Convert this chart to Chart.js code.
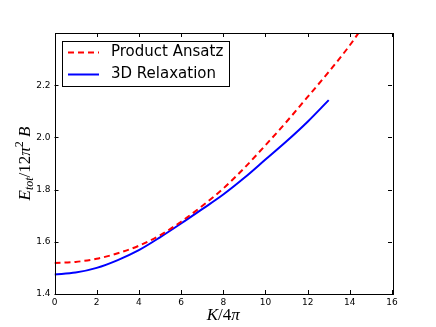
<!DOCTYPE html>
<html>
<head>
<meta charset="utf-8">
<script src="https://cdn.jsdelivr.net/npm/chart.js@4"></script>
<style>
  html, body { margin: 0; padding: 0; background: #fff; }
  #wrap { width: 436px; height: 327px; }
</style>
</head>
<body>
<div id="wrap"><canvas id="chart" width="436" height="327"></canvas></div>
<script>
// valores
const ansatzK = [0, 1, 2, 3, 4, 5, 6, 7, 8, 9, 10, 11, 12, 13, 14, 14.5]
const ansatzE = [1.519, 1.523, 1.535, 1.556, 1.585, 1.625, 1.677, 1.737, 1.804, 1.883, 1.970, 2.060, 2.155, 2.251, 2.353, 2.41]
const relaxK = [0, 1, 2, 3, 4, 5, 6, 7, 8, 9, 10, 11, 12, 13]
const relaxE = [1.475, 1.482, 1.500, 1.530, 1.568, 1.617, 1.670, 1.725, 1.781, 1.845, 1.915, 1.985, 2.060, 2.143]
const xTicks = [0, 2, 4, 6, 8, 10, 12, 14, 16]
const yTicks = [1.4, 1.6, 1.8, 2.0, 2.2]
const labels = ['Product Ansatz', '3D Relaxation']

const toPoints = (xs, ys) => xs.map((x, i) => ({ x: x, y: ys[i] }))

// ticks hacia adentro, marco y leyenda estilo matplotlib
const mplPlugin = {
    id: 'mpl',
    afterDraw(chart) {
        const ctx = chart.ctx
        const a = chart.chartArea
        const xs = chart.scales.x, ys = chart.scales.y
        ctx.save()
        ctx.strokeStyle = '#000'
        ctx.lineWidth = 1
        ctx.beginPath()
        xTicks.forEach(t => {
            const px = Math.round(xs.getPixelForValue(t)) + 0.5
            ctx.moveTo(px, a.bottom); ctx.lineTo(px, a.bottom - 4)
            ctx.moveTo(px, a.top); ctx.lineTo(px, a.top + 4)
        })
        yTicks.forEach(t => {
            const py = Math.round(ys.getPixelForValue(t)) + 0.5
            ctx.moveTo(a.left, py); ctx.lineTo(a.left + 4, py)
            ctx.moveTo(a.right, py); ctx.lineTo(a.right - 4, py)
        })
        ctx.stroke()
        ctx.strokeRect(Math.round(a.left) + 0.5, Math.round(a.top) + 0.5, Math.round(a.right - a.left), Math.round(a.bottom - a.top))

        // leyenda
        const lx = a.left + 7.5, ly = a.top + 8
        ctx.fillStyle = '#fff'
        ctx.fillRect(lx, ly, 167, 45)
        ctx.strokeRect(Math.round(lx) + 0.5, Math.round(ly) + 0.5, 167, 45)
        chart.data.datasets.forEach((ds, i) => {
            const yy = ly + 11.5 + i * 22
            ctx.beginPath()
            ctx.strokeStyle = ds.borderColor
            ctx.lineWidth = 2
            ctx.setLineDash(ds.borderDash || [])
            ctx.moveTo(lx + 6, yy); ctx.lineTo(lx + 37, yy)
            ctx.stroke()
            ctx.setLineDash([])
            ctx.fillStyle = '#000'
            ctx.font = '15px "DejaVu Sans"'
            ctx.textBaseline = 'middle'
            ctx.fillText(ds.label, lx + 49, yy)
        })

        // titulos de ejes
        const serif = '"Liberation Serif", serif'
        const drawParts = (parts, cx, cy) => {
            let w = 0
            parts.forEach(p => { ctx.font = p.f; p.w = ctx.measureText(p.t).width; w += p.w })
            let x0 = cx - w / 2
            ctx.textBaseline = 'alphabetic'
            ctx.fillStyle = '#000'
            parts.forEach(p => { ctx.font = p.f; ctx.fillText(p.t, x0, cy + (p.dy || 0)); x0 += p.w })
        }
        drawParts([
            { t: 'K', f: 'italic 17px ' + serif },
            { t: '/4', f: '17px ' + serif },
            { t: 'π', f: 'italic 17px ' + serif }
        ], (a.left + a.right) / 2, 320)
        ctx.save()
        ctx.translate(30, (a.top + a.bottom) / 2)
        ctx.rotate(-Math.PI / 2)
        drawParts([
            { t: 'E', f: 'italic 17px ' + serif },
            { t: 'tot', f: 'italic 12px ' + serif, dy: 3 },
            { t: '/12', f: '17px ' + serif },
            { t: 'π', f: 'italic 17px ' + serif },
            { t: '2', f: '12px ' + serif, dy: -7 },
            { t: ' B', f: 'italic 17px ' + serif }
        ], 0, 0)
        ctx.restore()
        ctx.restore()
    }
}

new Chart(document.getElementById('chart'), {
    type: 'scatter',
    data: {
        datasets: [{
            label: labels[0],
            data: toPoints(ansatzK, ansatzE),
            showLine: true,
            borderColor: '#ff0000',
            borderWidth: 2,
            borderDash: [6, 4],
            pointRadius: 0,
            cubicInterpolationMode: 'monotone'
        },
        {
            label: labels[1],
            data: toPoints(relaxK, relaxE),
            showLine: true,
            borderColor: '#0000ff',
            borderWidth: 2,
            pointRadius: 0,
            cubicInterpolationMode: 'monotone'
        }]
    },
    options: {
        responsive: false,
        animation: false,
        devicePixelRatio: 1,
        layout: { padding: { top: 33, right: 44, left: 0, bottom: 0 } },
        plugins: { legend: { display: false }, tooltip: { enabled: false } },
        scales: {
            x: {
                type: 'linear', min: 0, max: 16,
                afterBuildTicks: s => { s.ticks = xTicks.map(v => ({ value: v })) },
                afterFit: s => { s.height = 33 },
                grid: { display: false, drawTicks: false },
                border: { display: false },
                ticks: { color: '#000', font: { family: 'DejaVu Sans', size: 9 }, padding: 3, maxRotation: 0 }
            },
            y: {
                type: 'linear', min: 1.4, max: 2.4,
                afterBuildTicks: s => { s.ticks = yTicks.map(v => ({ value: v })) },
                afterFit: s => { s.width = 54.5 },
                grid: { display: false, drawTicks: false },
                border: { display: false },
                ticks: { color: '#000', font: { family: 'DejaVu Sans', size: 9 }, padding: 4, callback: v => v.toFixed(1) }
            }
        }
    },
    plugins: [mplPlugin]
})
</script>
</body>
</html>
